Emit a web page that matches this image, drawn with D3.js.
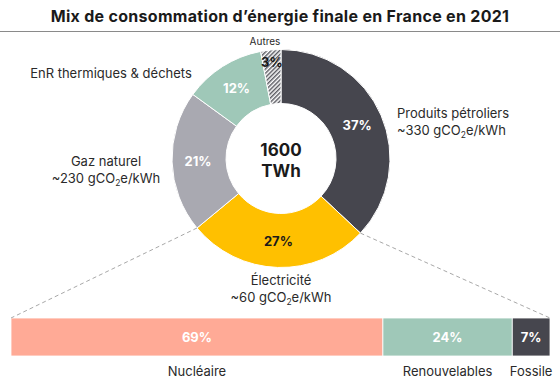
<!DOCTYPE html>
<html><head><meta charset="utf-8">
<script src="https://cdn.jsdelivr.net/npm/d3@7"></script>
<style>
body{margin:0;background:#fff;}
svg{display:block;font-family:Inter,"Noto Sans",sans-serif;}
</style></head>
<body><svg id="c" width="560" height="382"></svg>
<script>
const title = "Mix de consommation d’énergie finale en France en 2021";
const categories = ["Produits pétroliers","Électricité","Gaz naturel","EnR thermiques & déchets","Autres"];
const shares = [37,27,21,12,3];
const sliceColors = ["#46464e","#ffc000","#a9a9b1","#9fc8b8","hatch"];
const labelColors = ["#fff","#1a1a1a","#fff","#fff","#1a1a1a"];
const intensities = ["~330 gCO","~60 gCO","~230 gCO",null,null];
const total = "1600";
const totalUnit = "TWh";
const elecCats = ["Nucléaire","Renouvelables","Fossile"];
const elecShares = [69,24,7];
const elecColors = ["#ffaa96","#9fc8b8","#46464e"];

const svg = d3.select("#c");
const W=560;
const defs = svg.append("defs");
const pat = defs.append("pattern").attr("id","hatch").attr("patternUnits","userSpaceOnUse")
  .attr("width",3).attr("height",3).attr("patternTransform","rotate(45)");
pat.append("rect").attr("width",3).attr("height",3).attr("fill","#fff");
pat.append("line").attr("x1",0.75).attr("y1",0).attr("x2",0.75).attr("y2",3).attr("stroke","#46464e").attr("stroke-width",1.3);

// title
svg.append("text").attr("x",W/2).attr("y",22).attr("text-anchor","middle")
  .attr("font-size",16).attr("font-weight",700).attr("fill","#1a1a1a").attr("letter-spacing","0.3").text(title);
svg.append("line").attr("x1",0).attr("x2",W).attr("y1",31.5).attr("y2",31.5).attr("stroke","#8a8a8a").attr("stroke-width",1);

const cx=281, cy=158.5, R=109, r=55;
const g = svg.append("g").attr("transform",`translate(${cx},${cy})`);
const pie = d3.pie().sort(null).value(d=>d)(shares);
const arc = d3.arc().innerRadius(r).outerRadius(R);
const lab = d3.arc().innerRadius(83).outerRadius(83);
const labOut = d3.arc().innerRadius(97).outerRadius(97);

g.selectAll("path.s").data(pie).join("path").attr("class","s")
  .attr("d",arc)
  .attr("fill",(d,i)=>sliceColors[i]==="hatch"?"url(#hatch)":sliceColors[i])
  .attr("stroke","#fff").attr("stroke-width",1);

g.selectAll("text.p").data(pie).join("text").attr("class","p")
  .attr("transform",(d,i)=>`translate(${(i===4?labOut:lab).centroid(d)})`)
  .attr("text-anchor","middle").attr("dy","0.36em")
  .attr("font-size",13).attr("font-weight",700)
  .attr("fill",(d,i)=>labelColors[i]).text((d,i)=>shares[i]+"%");

// center
g.append("text").attr("text-anchor","middle").attr("y",-3).attr("font-size",17).attr("font-weight",700).attr("fill","#1a1a1a").text(total);
g.append("text").attr("text-anchor","middle").attr("y",18).attr("font-size",17).attr("font-weight",700).attr("fill","#1a1a1a").text(totalUnit);

// outside labels
function twoLine(x,y,anchor,l1,l2){
  const t = svg.append("text").attr("x",x).attr("y",y).attr("text-anchor",anchor).attr("font-size",13).attr("fill","#2a2a2a");
  t.append("tspan").attr("x",x).text(l1);
  if(l2){
    const t2 = t.append("tspan").attr("x",x).attr("dy",16.5);
    t2.text(l2);
    t2.append("tspan").attr("font-size",8.5).attr("dy",3).text("2");
    t2.append("tspan").attr("dy",-3).text("e/kWh");
  }
}
twoLine(397,118,"start",categories[0],intensities[0]);
twoLine(281,285,"middle",categories[1],intensities[1]);
twoLine(106,166,"middle",categories[2],intensities[2]);
twoLine(111,78,"middle",categories[3],null);
svg.append("text").attr("x",265).attr("y",45).attr("text-anchor","middle").attr("font-size",10).attr("fill","#2a2a2a").text(categories[4]);

// bar
const x = d3.scaleLinear().domain([0,d3.sum(elecShares)]).range([11,550]);
const stack = [];
let acc=0;
elecShares.forEach((v,i)=>{stack.push({i,v,x0:acc,x1:acc+v});acc+=v;});
const by=318, bh=38;
svg.selectAll("rect.b").data(stack).join("rect").attr("class","b")
  .attr("x",d=>x(d.x0)).attr("width",d=>x(d.x1)-x(d.x0)).attr("y",by).attr("height",bh)
  .attr("fill",d=>elecColors[d.i]).attr("stroke","#fff").attr("stroke-width",0.8);
svg.selectAll("text.bv").data(stack).join("text").attr("class","bv")
  .attr("x",d=>(x(d.x0)+x(d.x1))/2).attr("y",by+bh/2).attr("dy","0.36em").attr("text-anchor","middle")
  .attr("font-size",13).attr("font-weight",700).attr("fill","#fff").text(d=>d.v+"%");
svg.selectAll("text.bl").data(stack).join("text").attr("class","bl")
  .attr("x",d=>(x(d.x0)+x(d.x1))/2).attr("y",376).attr("text-anchor","middle")
  .attr("font-size",13).attr("fill","#2a2a2a").text(d=>elecCats[d.i]);

// connector dashed lines from electricity slice
const e = pie[1];
const pA = [cx+R*Math.sin(e.startAngle), cy-R*Math.cos(e.startAngle)];
const pB = [cx+R*Math.sin(e.endAngle), cy-R*Math.cos(e.endAngle)];
svg.append("line").attr("x1",pB[0]).attr("y1",pB[1]).attr("x2",x(0)).attr("y2",by)
  .attr("stroke","#a8a8a8").attr("stroke-dasharray","4,3");
svg.append("line").attr("x1",pA[0]).attr("y1",pA[1]).attr("x2",x(100)).attr("y2",by)
  .attr("stroke","#a8a8a8").attr("stroke-dasharray","4,3");
</script></body></html>
